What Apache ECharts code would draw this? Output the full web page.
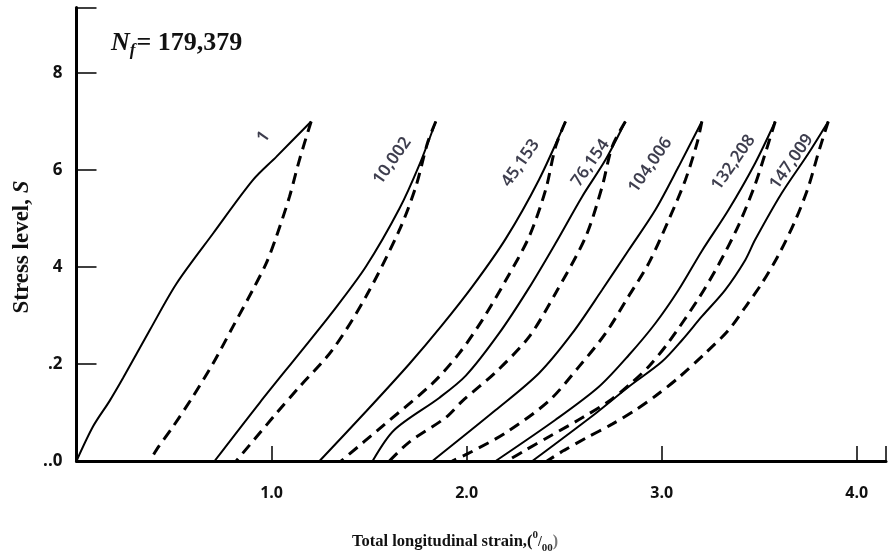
<!DOCTYPE html>
<html>
<head>
<meta charset="utf-8">
<script src="https://cdn.jsdelivr.net/npm/echarts@6/dist/echarts.min.js"></script>
<style>
html,body{margin:0;padding:0;background:#fff;}
#chart{width:889px;height:556px;}
</style>
</head>
<body>
<div id="chart"></div>
<script>
// ---- Data (strain in ‰, stress level S) ----
const cycleNames = ['1', '10,002', '45,153', '76,154', '104,006', '132,208', '147,009'];

// Loading branches (solid)
const load1 = [[0,0],[0.086,0.72],[0.17,1.24],[0.24,1.72],[0.376,2.70],[0.513,3.66],[0.70,4.69],[0.904,5.79],[1.024,6.27],[1.203,7]];
const load2 = [[0.708,0],[0.939,1.20],[1.143,2.22],[1.314,3.08],[1.484,4.01],[1.655,5.20],[1.757,6.10],[1.842,7]];
const load3 = [[1.246,0],[1.484,1.02],[1.706,2.00],[1.870,2.78],[2.030,3.60],[2.200,4.58],[2.371,5.80],[2.507,7]];
const load4 = [[1.518,0],[1.629,0.64],[1.859,1.30],[1.996,1.76],[2.166,2.63],[2.320,3.57],[2.456,4.49],[2.592,5.45],[2.712,6.21],[2.814,7]];
const load5 = [[1.825,0],[2.149,1.05],[2.371,1.81],[2.541,2.63],[2.695,3.53],[2.831,4.35],[2.968,5.18],[3.087,6.07],[3.206,7]];
const load6 = [[2.149,0],[2.456,0.85],[2.678,1.53],[2.831,2.18],[2.968,2.84],[3.087,3.53],[3.206,4.33],[3.343,5.18],[3.479,6.14],[3.582,7]];
const load7 = [[2.337,0],[2.661,0.98],[2.831,1.53],[3.002,2.05],[3.104,2.49],[3.206,2.98],[3.326,3.53],[3.428,4.14],[3.479,4.56],[3.615,5.52],[3.752,6.34],[3.854,7]];

// Unloading branches (dashed)
const unload1 = [[1.203,7],[1.143,6.21],[1.092,5.45],[1.024,4.62],[0.973,4.08],[0.904,3.53],[0.802,2.77],[0.700,2.01],[0.597,1.33],[0.495,0.71],[0.410,0.23],[0.376,0]];
const unload2 = [[1.842,7],[1.799,6.55],[1.740,5.66],[1.655,4.76],[1.484,3.39],[1.312,2.29],[1.143,1.53],[1.024,0.98],[0.819,0]];
const unload3 = [[2.507,7],[2.456,6.48],[2.405,5.59],[2.320,4.62],[2.200,3.72],[2.081,2.91],[1.962,2.22],[1.825,1.60],[1.569,0.72],[1.357,0]];
const unload4 = [[2.814,7],[2.746,6.48],[2.695,5.66],[2.610,4.62],[2.456,3.46],[2.320,2.56],[2.149,1.83],[1.979,1.24],[1.894,0.90],[1.706,0.39],[1.604,0]];
const unload5 = [[3.206,7],[3.181,6.55],[3.121,5.79],[3.036,4.97],[2.934,4.08],[2.831,3.40],[2.712,2.63],[2.575,1.94],[2.422,1.24],[2.200,0.58],[2.020,0.18],[1.926,0]];
const unload6 = [[3.582,7],[3.530,6.33],[3.479,5.70],[3.394,4.86],[3.292,4.05],[3.189,3.35],[3.036,2.45],[2.934,1.95],[2.848,1.62],[2.746,1.28],[2.592,0.89],[2.422,0.50],[2.300,0.22],[2.207,0]];
const unload7 = [[3.854,7],[3.803,6.35],[3.752,5.65],[3.684,4.95],[3.598,4.24],[3.513,3.66],[3.430,3.18],[3.343,2.70],[3.223,2.22],[3.087,1.72],[2.968,1.34],[2.865,1.05],[2.746,0.76],[2.610,0.47],[2.500,0.22],[2.412,0]];

// Cycle label anchor points (data coords)
const labelX = [0.959, 1.619, 2.277, 2.635, 2.942, 3.368, 3.666];
const labelY = [6.68, 6.19, 6.14, 6.14, 6.10, 6.15, 6.17];

// Tick labels
const xTickLabels = {1: '1.0', 2: '2.0', 3: '3.0', 4: '4.0'};
const yTickLabels = {0: '..0', 2: '.2', 4: '4', 6: '6', 8: '8'};

const loads = [load1, load2, load3, load4, load5, load6, load7];
const unloads = [unload1, unload2, unload3, unload4, unload5, unload6, unload7];

const series = [];
loads.forEach((d) => {
  series.push({
    type: 'line', data: d, showSymbol: false, smooth: 0.3, silent: true,
    lineStyle: {color: '#000', width: 2}, z: 3
  });
});
unloads.forEach((d) => {
  series.push({
    type: 'line', data: d, showSymbol: false, smooth: 0.3, silent: true,
    lineStyle: {color: '#000', width: 3, type: [11, 7]}, z: 3
  });
});
series.push({
  type: 'scatter', symbolSize: 0, silent: true,
  data: cycleNames.map((n, i) => ({value: [labelX[i], labelY[i]], name: n})),
  label: {
    show: true, position: 'inside', rotate: 55,
    formatter: p => p.name,
    fontFamily: 'Noto Sans', fontWeight: 600, fontSize: 17, color: '#0d0d20'
  }
});

const chart = echarts.init(document.getElementById('chart'));
chart.setOption({
  animation: false,
  backgroundColor: '#fff',
  grid: {left: 76.5, right: 1.2, top: 7.5, bottom: 95, containLabel: false},
  xAxis: {
    type: 'value', min: 0, max: 4.15, interval: 1,
    axisLine: {show: true, onZero: false, lineStyle: {color: '#000', width: 3}},
    axisTick: {show: true, inside: true, length: 15, lineStyle: {color: '#000', width: 1.5}},
    splitLine: {show: false},
    axisLabel: {
      margin: 24, fontFamily: 'Open Sans', fontWeight: 'bold', fontSize: 16, color: '#111',
      formatter: v => xTickLabels[v] || ''
    }
  },
  yAxis: {
    type: 'value', min: 0, max: 9.35, interval: 2,
    axisLine: {show: true, onZero: false, lineStyle: {color: '#000', width: 3}},
    axisTick: {show: true, inside: true, length: 20, lineStyle: {color: '#000', width: 1.5}},
    splitLine: {show: false},
    axisLabel: {
      margin: 14, fontFamily: 'Open Sans', fontWeight: 'bold', fontSize: 17, color: '#111',
      formatter: v => yTickLabels[v] || ''
    }
  },
  title: [
    {
      left: 106, top: 23,
      text: '{n|N}{f|f}{v|= 179,379}',
      textStyle: {
        rich: {
          n: {fontFamily: 'Liberation Serif', fontStyle: 'italic', fontWeight: 'bold', fontSize: 26, color: '#111', lineHeight: 31, verticalAlign: 'middle'},
          f: {fontFamily: 'Liberation Serif', fontStyle: 'italic', fontWeight: 'bold', fontSize: 17, color: '#111', lineHeight: 31, verticalAlign: 'bottom', padding: [0, 1, 0, 0]},
          v: {fontFamily: 'Liberation Serif', fontWeight: 'bold', fontSize: 26, color: '#111', lineHeight: 31, verticalAlign: 'middle'}
        }
      }
    },
    {
      left: 347, top: 525,
      text: '{a|Total longitudinal strain,(}{sup|0}{s|/}{sub|00}{c|)}',
      textStyle: {
        rich: {
          a: {fontFamily: 'Liberation Serif', fontWeight: 'bold', fontSize: 16.5, color: '#111', lineHeight: 24, verticalAlign: 'middle'},
          sup: {fontFamily: 'Liberation Serif', fontWeight: 'bold', fontSize: 11, color: '#222', lineHeight: 24, verticalAlign: 'top'},
          s: {fontFamily: 'Liberation Serif', fontWeight: 'bold', fontSize: 14, color: '#222', lineHeight: 24, verticalAlign: 'middle'},
          sub: {fontFamily: 'Liberation Serif', fontWeight: 'bold', fontSize: 11, color: '#222', lineHeight: 24, verticalAlign: 'bottom'},
          c: {fontFamily: 'Liberation Serif', fontSize: 16, color: '#777', lineHeight: 24, verticalAlign: 'middle'}
        }
      }
    }
  ],
  graphic: [{
    type: 'text', x: 22, y: 247, rotation: Math.PI / 2,
    style: {
      text: '{a|Stress level, }{b|S}',
      align: 'center', verticalAlign: 'middle',
      rich: {
        a: {fontFamily: 'Liberation Serif', fontWeight: 'bold', fontSize: 23, fill: '#111'},
        b: {fontFamily: 'Liberation Serif', fontStyle: 'italic', fontWeight: 'bold', fontSize: 23, fill: '#111'}
      }
    }
  }],
  series: series
});
</script>
</body>
</html>
